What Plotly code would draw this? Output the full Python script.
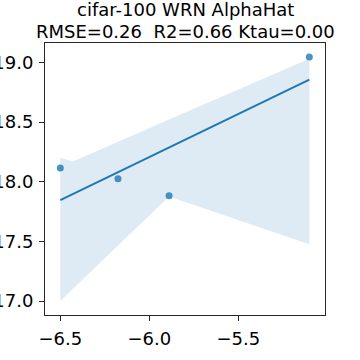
import numpy as np
import plotly.graph_objects as go

# scatter points (AlphaHat vs accuracy)
x_vals = [-6.5, -6.176, -5.889, -5.101]
y_vals = [18.115, 18.025, 17.883, 19.044]

# bootstrap confidence band
band_x = [-6.5, -6.43, -5.889, -5.101]
band_hi = [18.20, 18.17, 18.52, 19.03]
band_lo = [17.00, 17.10, 17.875, 17.475]

title_lines = ["cifar-100 WRN AlphaHat", "RMSE=0.26  R2=0.66 Ktau=0.00"]
x_ticks = [-6.5, -6.0, -5.5]
y_ticks = [17.0, 17.5, 18.0, 18.5, 19.0]

blue = "#1f77b4"
font = "DejaVu Sans"

slope, icept = np.polyfit(x_vals, y_vals, 1)
line_x = [min(x_vals), max(x_vals)]
line_y = [slope * v + icept for v in line_x]

fig = go.Figure()

fig.add_trace(go.Scatter(
    x=band_x + band_x[::-1],
    y=band_hi + band_lo[::-1],
    fill="toself",
    fillcolor="rgba(31,119,180,0.15)",
    line=dict(width=0),
    mode="lines",
    hoverinfo="skip",
    showlegend=False,
))

fig.add_trace(go.Scatter(
    x=line_x, y=line_y,
    mode="lines",
    line=dict(color=blue, width=2),
    showlegend=False,
))

fig.add_trace(go.Scatter(
    x=x_vals, y=y_vals,
    mode="markers",
    marker=dict(color="rgba(31,119,180,0.8)", size=7),
    showlegend=False,
))

axis_style = dict(
    showgrid=False, zeroline=False,
    showline=True, mirror=True, linecolor="#262626", linewidth=1,
    ticks="outside", ticklen=5, tickwidth=1, tickcolor="#262626",
    tickfont=dict(family=font, size=18, color="black"),
)

fig.update_xaxes(range=[-6.586, -5.013], tickvals=x_ticks,
                 ticktext=["\u22126.5", "\u22126.0", "\u22125.5"],
                 ticklabelstandoff=2, **axis_style)
fig.update_yaxes(range=[16.883, 19.162], tickvals=y_ticks,
                 ticktext=[f"{v:.1f}" for v in y_ticks],
                 ticklabelstandoff=2, **axis_style)

for txt, yy in zip(title_lines, [1.125, 1.044]):
    fig.add_annotation(text=txt, xref="paper", yref="paper", x=0.5, y=yy,
                       xanchor="center", yanchor="middle", showarrow=False,
                       font=dict(family=font, size=18, color="black"))

fig.update_layout(
    width=360, height=360,
    margin=dict(l=45, r=35, t=43, b=45, autoexpand=False),
    plot_bgcolor="white", paper_bgcolor="white",
)

fig.write_html("out.html", config={"displayModeBar": False},
               post_script="document.body.style.margin='0';")
